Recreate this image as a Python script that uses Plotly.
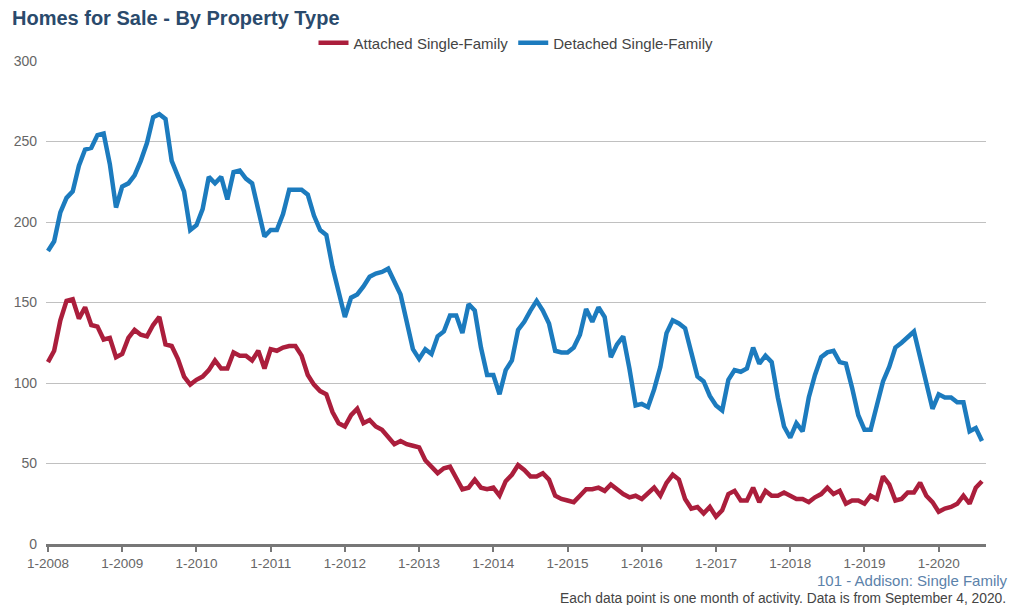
import plotly.graph_objects as go

years = list(range(2008, 2021))
months = [f"{m}-{y}" for y in years for m in range(1, 13)][:152]

detached = [
    182, 188, 206, 215, 219, 235, 245, 246, 254, 255, 236, 209,
    222, 224, 229, 238, 249, 265, 267, 264, 238, 228, 219, 195,
    198, 208, 228, 224, 228, 214, 231, 232, 227, 224, 207, 191,
    195, 195, 205, 220, 220, 220, 217, 204, 195, 192, 172, 157,
    141, 153, 155, 160, 166, 168, 169, 171, 163, 155, 138, 121,
    115, 121, 118, 129, 132, 142, 142, 131, 149, 145, 122, 105,
    105, 93, 108, 114, 133, 138, 145, 151, 145, 137, 120, 119,
    119, 122, 130, 146, 138, 147, 141, 116, 124, 129, 109, 86,
    87, 85, 96, 110, 131, 139, 137, 134, 119, 104, 101, 92,
    86, 83, 102, 108, 107, 109, 122, 112, 117, 113, 91, 73,
    66, 75, 70, 91, 105, 116, 119, 120, 113, 112, 97, 80,
    71, 71, 86, 101, 110, 122, 125, 129, 132, 116, 100, 84,
    93, 91, 91, 88, 88, 70, 72, 64,
]

attached = [
    113, 120, 139, 151, 152, 140, 147, 136, 135, 127, 128, 116,
    118, 128, 133, 130, 129, 136, 141, 124, 123, 115, 104, 99,
    102, 104, 108, 114, 109, 109, 119, 117, 117, 114, 120, 109,
    121, 120, 122, 123, 123, 117, 105, 99, 95, 93, 82, 75,
    73, 80, 84, 75, 77, 73, 71, 67, 62, 64, 62, 61,
    60, 52, 48, 44, 47, 48, 41, 34, 35, 40, 35, 34,
    35, 30, 39, 43, 49, 46, 42, 42, 44, 40, 30, 28,
    27, 26, 30, 34, 34, 35, 33, 37, 34, 31, 29, 30,
    28, 32, 35, 30, 38, 43, 40, 28, 22, 23, 19, 23,
    17, 21, 31, 33, 27, 27, 35, 26, 33, 30, 30, 32,
    30, 28, 28, 26, 29, 31, 35, 31, 33, 25, 27, 27,
    25, 30, 28, 42, 37, 27, 28, 32, 32, 38, 30, 26,
    20, 22, 23, 25, 30, 25, 35, 39,
]

tick_labels = [f"1-{y}" for y in years]
y_ticks = [0, 50, 100, 150, 200, 250, 300]

RED = "#AB1E3C"
BLUE = "#1C7BBE"
FONT = "Liberation Sans, Arial, sans-serif"

W, H = 1008, 597
fig = go.Figure()
fig.add_trace(go.Scatter(x=months, y=attached, mode="lines", name="Attached Single-Family",
                         line=dict(color=RED, width=4.5)))
fig.add_trace(go.Scatter(x=months, y=detached, mode="lines", name="Detached Single-Family",
                         line=dict(color=BLUE, width=4.5)))

fig.update_layout(
    width=W, height=H,
    margin=dict(l=38, r=30, t=53, b=61),
    paper_bgcolor="white", plot_bgcolor="white",
    font=dict(family=FONT, color="#555555", size=14),
    title=dict(text="<b>Homes for Sale - By Property Type</b>", xref="container", yref="container",
               x=4/W, y=1-10/H, xanchor="left", yanchor="middle",
               font=dict(size=20, color="#2A4A6C", family=FONT)),
    legend=dict(orientation="h", x=0.5, xanchor="center", y=1+18/483, yanchor="middle",
                font=dict(size=15, color="#444444"), itemwidth=30, bgcolor="rgba(0,0,0,0)"),
    showlegend=True,
)
fig.update_xaxes(
    type="category", range=[-0.32, 151.65], automargin=False,
    tickmode="array", tickvals=tick_labels, ticktext=tick_labels,
    showgrid=False, showline=True, linecolor="#777777", linewidth=3,
    ticks="outside", ticklen=5, tickwidth=2, tickcolor="#777777",
    tickfont=dict(size=13.5, color="#666666"), zeroline=False,
)
fig.update_yaxes(
    range=[0, 300], tickvals=y_ticks, showgrid=True, gridcolor="#C0C0C0", gridwidth=1,
    showline=False, zeroline=False, ticks="", tickfont=dict(size=14, color="#666666"),
    ticklabelstandoff=8, automargin=False,
)
fig.add_annotation(text="101 - Addison: Single Family", xref="paper", yref="paper",
                   x=(1010-46)/940, y=-(580-544)/483, xanchor="right", yanchor="middle",
                   showarrow=False, font=dict(size=15, color="#5B82AA"))
fig.add_annotation(text="Each data point is one month of activity. Data is from September 4, 2020.",
                   xref="paper", yref="paper", x=(1008-46)/940, y=-(598-544)/483,
                   xanchor="right", yanchor="middle", showarrow=False,
                   font=dict(size=13.8, color="#444444"))

fig.write_html("out.html")
